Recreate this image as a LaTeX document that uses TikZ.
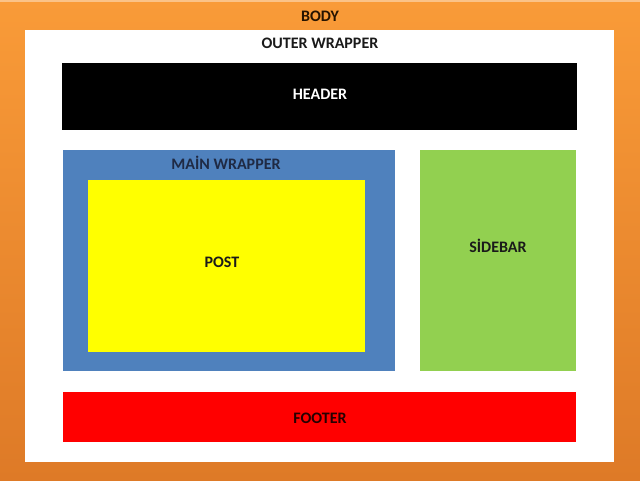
\documentclass[tikz,border=0pt]{standalone}
\usepackage{fontspec}
\setmainfont{Carlito}
\definecolor{orangetop}{HTML}{F99B38}
\definecolor{orangebot}{HTML}{DE7A27}
\definecolor{mainblue}{HTML}{4F81BD}
\definecolor{sidegreen}{HTML}{92D050}
\definecolor{postyellow}{HTML}{FFFF00}
\definecolor{footred}{HTML}{FF0000}
\definecolor{darktxt}{HTML}{1A1A1A}
\definecolor{navytxt}{HTML}{1F2A44}
\tikzset{
  lbl/.style={font=\bfseries\fontsize{16}{19}\selectfont, text=darktxt, inner sep=0pt}
}
\begin{document}
\begin{tikzpicture}[x=1pt,y=-1pt]
\useasboundingbox (0,0) rectangle (640,480);
\shade[top color=orangetop, bottom color=orangebot] (0,0) rectangle (640,480);
\fill[orangetop!60!white] (0,0) rectangle (640,2);
\fill[white] (25,30) rectangle (614,462);
\fill[black] (62,63) rectangle (577,130);
\fill[mainblue] (63,150) rectangle (395,371);
\fill[postyellow] (88,180) rectangle (365,352);
\fill[sidegreen] (420,150) rectangle (576,371);
\fill[footred] (63,392) rectangle (576,442);
\node[lbl, text=black!85!orange] (body) at (320,16) {BODY};
\node[lbl] (outer) at (320,43) {OUTER WRAPPER};
\node[lbl, text=white] (header) at (320,94) {HEADER};
\node[lbl, text=navytxt] (mainw) at (226,163) {MAİN WRAPPER};
\node[lbl] (post) at (222,262) {POST};
\node[lbl] (sidebar) at (498,246) {SİDEBAR};
\node[lbl, text=black!85!red] (footer) at (320,418) {FOOTER};
\end{tikzpicture}
\end{document}
